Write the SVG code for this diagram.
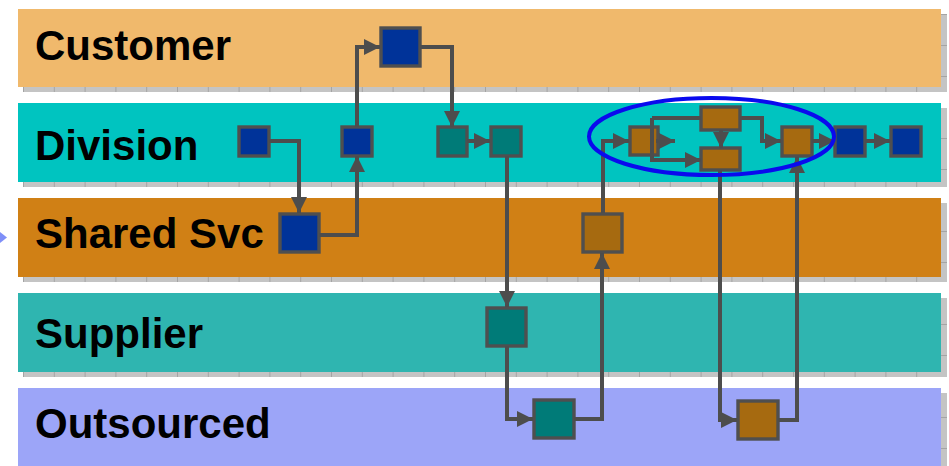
<svg xmlns="http://www.w3.org/2000/svg" width="949" height="466" viewBox="0 0 949 466">
<style>
.lbl{font-family:"Liberation Sans",Arial,sans-serif;font-weight:bold;font-size:42px;fill:#000}
.shadow{fill:url(#grid)}
.n{stroke:#4f4f4f;stroke-width:3.4}
.blue{fill:#003399}
.teal{fill:#007B78}
.brown{fill:#A66A10}
.c{fill:none;stroke:#4d4d4d;stroke-width:4}
.a{marker-end:url(#arr)}
</style>
<defs>
<pattern id="grid" patternUnits="userSpaceOnUse" x="23" y="14" width="30.8" height="31">
<rect width="30.8" height="31" fill="#c4c4c4"/>
<path d="M0.5,0 V31 M0,0.5 H30.8" stroke="#a4a4a4" stroke-width="1"/>
</pattern>
<marker id="arr" viewBox="0 0 10 10" refX="10" refY="5" markerUnits="userSpaceOnUse" markerWidth="17" markerHeight="16" orient="auto">
<path d="M0,0 L10,5 L0,10 z" fill="#4d4d4d"/>
</marker>
</defs>
<rect width="949" height="466" fill="#ffffff"/>
<g id="lane-customer">
<rect class="shadow" x="23" y="14" width="924" height="78"/>
<rect x="18" y="9" width="923" height="78" fill="#F0B96C"/>
<text class="lbl" x="35" y="60">Customer</text>
</g>
<g id="lane-division">
<rect class="shadow" x="23" y="108" width="924" height="79"/>
<rect x="18" y="103" width="923" height="79" fill="#00C4C0"/>
<text class="lbl" x="35" y="160">Division</text>
</g>
<g id="lane-shared">
<rect class="shadow" x="23" y="203" width="924" height="79"/>
<rect x="18" y="198" width="923" height="79" fill="#D08015"/>
<text class="lbl" x="35" y="248">Shared Svc</text>
</g>
<g id="lane-supplier">
<rect class="shadow" x="23" y="298" width="924" height="79"/>
<rect x="18" y="293" width="923" height="79" fill="#2FB5B0"/>
<text class="lbl" x="35" y="348">Supplier</text>
</g>
<g id="lane-outsourced">
<rect class="shadow" x="23" y="393" width="924" height="80"/>
<rect x="18" y="388" width="923" height="80" fill="#9CA5F8"/>
<text class="lbl" x="35" y="438">Outsourced</text>
</g>
<polygon id="side-marker" points="0,232 7,237.5 0,243" fill="#7f8ff8"/>
<g id="nodes">
<g id="d1"><rect class="n blue" x="239" y="127" width="30" height="29"/></g>
<g id="s1"><rect class="n blue" x="280" y="214" width="39" height="38"/></g>
<g id="d2"><rect class="n blue" x="342" y="127" width="30" height="29"/></g>
<g id="c1"><rect class="n blue" x="381" y="28" width="39" height="38"/></g>
<g id="d3"><rect class="n teal" x="438" y="127" width="29" height="29"/></g>
<g id="d4"><rect class="n teal" x="491" y="127" width="30" height="29"/></g>
<g id="su1"><rect class="n teal" x="487" y="308" width="39" height="38"/></g>
<g id="o1"><rect class="n teal" x="534" y="400" width="40" height="38"/></g>
<g id="s2"><rect class="n brown" x="583" y="214" width="39" height="38"/></g>
<g id="e1"><rect class="n brown" x="630" y="127" width="28" height="28"/></g>
<g id="e2"><rect class="n brown" x="701" y="107" width="39" height="23"/></g>
<g id="e3"><rect class="n brown" x="701" y="148" width="39" height="22"/></g>
<g id="e4"><rect class="n brown" x="782" y="127" width="30" height="29"/></g>
<g id="d5"><rect class="n blue" x="835" y="127" width="30" height="29"/></g>
<g id="d6"><rect class="n blue" x="891" y="127" width="30" height="29"/></g>
<g id="o2"><rect class="n brown" x="738" y="401" width="40" height="38"/></g>
</g>
<g id="connectors">
<path class="c a" d="M269,141 H299 V213"/>
<path class="c a" d="M319,235 H357 V156"/>
<path class="c a" d="M357,127 V47 H380"/>
<path class="c a" d="M420,47 H452 V127"/>
<path class="c a" d="M467,141 H490"/>
<path class="c a" d="M507,156 V307"/>
<path class="c a" d="M507,346 V419 H533"/>
<path class="c a" d="M574,419 H602 V253"/>
<path class="c a" d="M603,213 V141 H629"/>
<path class="c a" d="M656,141 H675"/>
<path class="c" d="M652,118 H701"/>
<path class="c a" d="M652,118 V160 H701"/>
<path class="c a" d="M721,130 V148"/>
<path class="c a" d="M740,118 H762 V141 H781"/>
<path class="c a" d="M812,141 H835"/>
<path class="c a" d="M865,141 H890"/>
<path class="c a" d="M720,170 V420 H737"/>
<path class="c a" d="M778,420 H797 V157"/>
</g>
<ellipse id="highlight" cx="711.5" cy="136.5" rx="122.5" ry="38.5" fill="none" stroke="#0a0aee" stroke-width="4"/>
</svg>
